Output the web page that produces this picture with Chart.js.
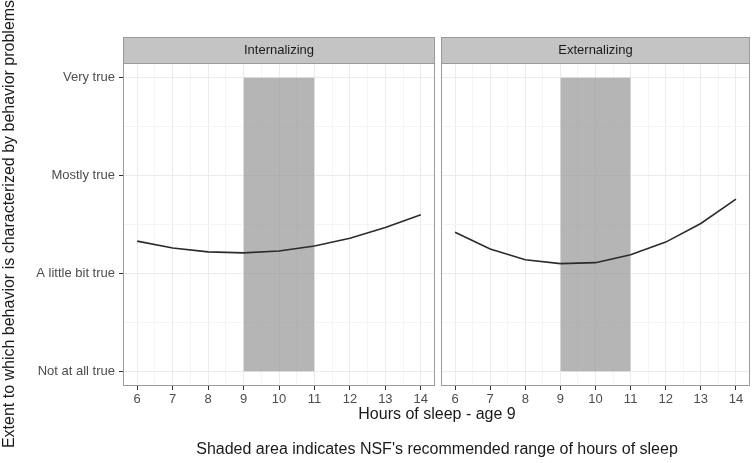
<!DOCTYPE html>
<html lang="en">
<head>
    <meta charset="UTF-8">
    <title>Sleep and behavior problems</title>
    <style>
        body {
            margin: 0;
            width: 755px;
            height: 463px;
            position: relative;
            background: #fff;
            font-family: 'Liberation Sans', Arial, sans-serif;
            color: #1a1a1a;
            overflow: hidden;
        }
        canvas {
            position: absolute;
            top: 0;
        }
        #leftChart { left: 0; }
        #rightChart { left: 436px; }
        .title {
            position: absolute;
            font-size: 16px;
            line-height: 18px;
            white-space: nowrap;
            text-align: center;
        }
        #xTitle { left: 237px; width: 400px; top: 405px; }
        #caption { left: 137px; width: 600px; top: 440px; }
        #yTitle {
            left: -221px; width: 460px; top: 215px;
            transform: rotate(-90deg);
        }
    </style>
</head>
<body>
    <canvas id="leftChart" width="440" height="463"></canvas>
    <canvas id="rightChart" width="319" height="463"></canvas>
    <div class="title" id="xTitle">Hours of sleep - age 9</div>
    <div class="title" id="caption">Shaded area indicates NSF's recommended range of hours of sleep</div>
    <div class="title" id="yTitle">Extent to which behavior is characterized by behavior problems</div>

    <script src="https://cdn.jsdelivr.net/npm/chart.js"></script>
    <script>
        // data
        const hours = [6, 7, 8, 9, 10, 11, 12, 13, 14];
        const internalizing = [2.33, 2.26, 2.22, 2.21, 2.23, 2.28, 2.36, 2.47, 2.60];
        const externalizing = [2.42, 2.25, 2.14, 2.10, 2.11, 2.19, 2.32, 2.51, 2.76];
        const yTickValues = [1, 2, 3, 4];
        const yTickLabels = ['Not at all true', 'A little bit true', 'Mostly true', 'Very true'];
        const shadedRange = [9, 11];
        const panelNames = ['Internalizing', 'Externalizing'];

        const majorGrid = '#ebebeb';
        const minorGrid = '#f4f4f4';
        const tickFont = { family: "'Liberation Sans', Arial, sans-serif", size: 13 };

        function halfSteps(a, b) {
            const out = [];
            for (let v = a; v <= b + 1e-9; v += 0.5) out.push({ value: v });
            return out;
        }

        const panelPlugin = {
            id: 'panel',
            afterDraw(chart, args, opts) {
                const c = chart.ctx;
                const a = chart.chartArea;
                c.save();
                // strip
                c.fillStyle = '#c4c4c4';
                c.fillRect(a.left, 37, a.right - a.left, a.top - 37);
                c.strokeStyle = '#9a9a9a';
                c.lineWidth = 1;
                c.strokeRect(a.left + 0.5, 37.5, a.right - a.left - 1, a.top - 37);
                c.fillStyle = '#1a1a1a';
                c.font = "13px 'Liberation Sans', Arial, sans-serif";
                c.textAlign = 'center';
                c.textBaseline = 'middle';
                c.fillText(opts.title, (a.left + a.right) / 2, 50.5);
                // panel border
                c.strokeRect(a.left + 0.5, a.top + 0.5, a.right - a.left - 1, a.bottom - a.top - 1);
                c.restore();
            }
        };

        function makePanel(id, values, title, showY) {
            const ctx = document.getElementById(id).getContext('2d');
            return new Chart(ctx, {
                type: 'line',
                data: {
                    datasets: [
                        {
                            data: hours.map((h, i) => ({ x: h, y: values[i] })),
                            borderColor: '#2b2b2b',
                            borderWidth: 1.6,
                            pointRadius: 0,
                            tension: 0,
                            fill: false,
                            order: 1
                        },
                        {
                            data: shadedRange.map(h => ({ x: h, y: yTickValues[yTickValues.length - 1] })),
                            borderWidth: 0,
                            borderColor: 'rgba(0,0,0,0)',
                            backgroundColor: 'rgba(149,149,149,0.7)',
                            pointRadius: 0,
                            fill: { value: yTickValues[0] },
                            order: 2
                        }
                    ]
                },
                options: {
                    responsive: false,
                    animation: false,
                    devicePixelRatio: 1,
                    layout: { padding: { top: 63, right: 5, left: 0, bottom: 0 } },
                    plugins: {
                        legend: { display: false },
                        tooltip: { enabled: false },
                        panel: { title: title }
                    },
                    scales: {
                        x: {
                            type: 'linear',
                            min: 5.6,
                            max: 14.4,
                            afterBuildTicks: s => { s.ticks = halfSteps(6, 14); },
                            afterFit: s => { s.height = 77; },
                            border: { display: false },
                            grid: {
                                color: c => Number.isInteger(c.tick.value) ? majorGrid : minorGrid,
                                tickColor: c => Number.isInteger(c.tick.value) ? '#333' : 'rgba(0,0,0,0)',
                                tickLength: 4
                            },
                            ticks: {
                                autoSkip: false,
                                maxRotation: 0,
                                padding: 2,
                                color: '#4d4d4d',
                                font: tickFont,
                                callback: v => Number.isInteger(v) ? String(v) : ''
                            }
                        },
                        y: {
                            type: 'linear',
                            min: 0.85,
                            max: 4.15,
                            afterBuildTicks: s => { s.ticks = halfSteps(1, 4); },
                            afterFit: s => { s.width = showY ? 123 : 5; },
                            border: { display: false },
                            grid: {
                                color: c => Number.isInteger(c.tick.value) ? majorGrid : minorGrid,
                                tickColor: c => (showY && Number.isInteger(c.tick.value)) ? '#333' : 'rgba(0,0,0,0)',
                                tickLength: showY ? 4 : 0,
                                drawTicks: showY
                            },
                            ticks: {
                                display: showY,
                                autoSkip: false,
                                padding: 4,
                                color: '#4d4d4d',
                                font: tickFont,
                                callback: v => {
                                    const i = yTickValues.indexOf(v);
                                    return i >= 0 ? yTickLabels[i] : '';
                                }
                            }
                        }
                    }
                },
                plugins: [panelPlugin]
            });
        }

        makePanel('leftChart', internalizing, panelNames[0], true);
        makePanel('rightChart', externalizing, panelNames[1], false);
    </script>
</body>
</html>
